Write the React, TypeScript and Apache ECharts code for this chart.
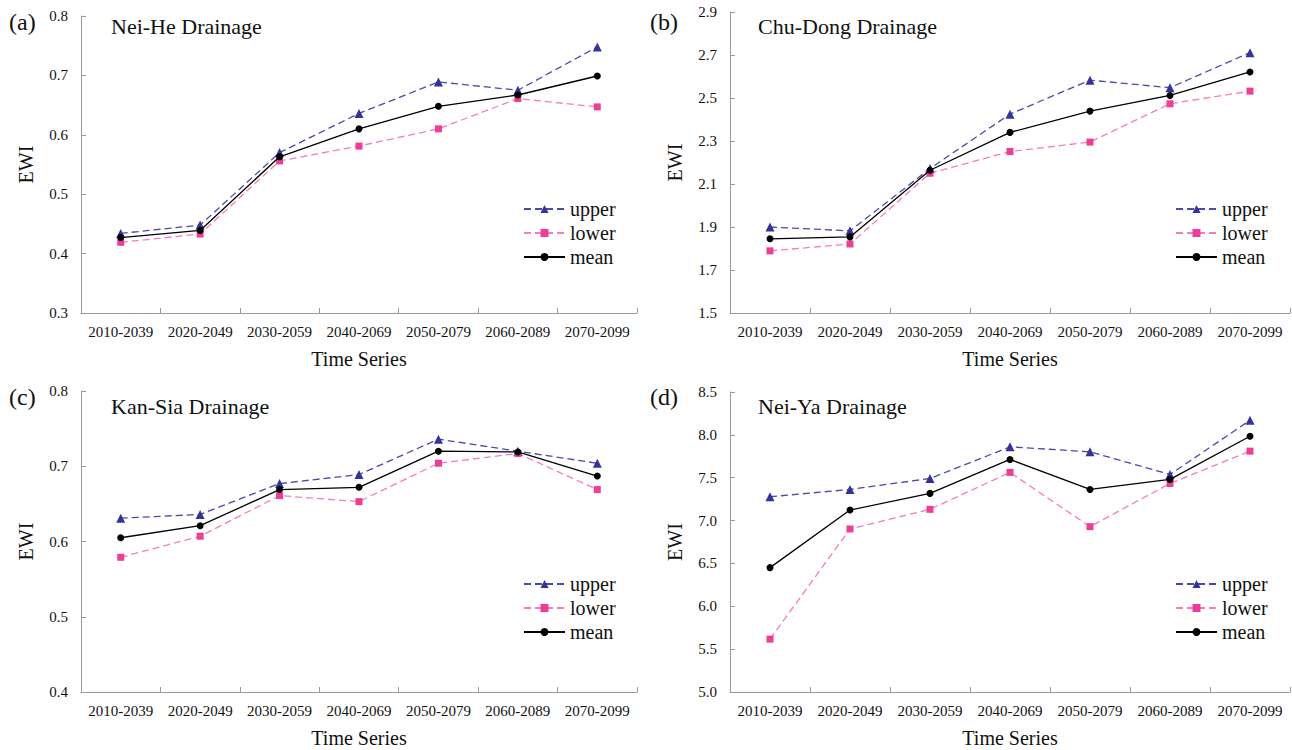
import React, { useEffect, useRef } from "react";
import * as echarts from "echarts";

const categories = ["2010-2039", "2020-2049", "2030-2059", "2040-2069", "2050-2079", "2060-2089", "2070-2099"];
const seriesNames = ["upper", "lower", "mean"];

const neiHeUpper = [0.434, 0.448, 0.570, 0.636, 0.689, 0.675, 0.748];
const neiHeLower = [0.419, 0.433, 0.556, 0.581, 0.610, 0.661, 0.647];
const neiHeMean = [0.427, 0.439, 0.563, 0.610, 0.648, 0.667, 0.699];

const chuDongUpper = [1.900, 1.882, 2.172, 2.425, 2.583, 2.548, 2.711];
const chuDongLower = [1.789, 1.821, 2.150, 2.251, 2.295, 2.473, 2.532];
const chuDongMean = [1.845, 1.854, 2.164, 2.340, 2.439, 2.512, 2.621];

const kanSiaUpper = [0.631, 0.636, 0.677, 0.689, 0.736, 0.720, 0.704];
const kanSiaLower = [0.579, 0.607, 0.661, 0.653, 0.704, 0.717, 0.669];
const kanSiaMean = [0.605, 0.621, 0.669, 0.672, 0.720, 0.719, 0.687];

const neiYaUpper = [7.278, 7.363, 7.491, 7.860, 7.802, 7.538, 8.170];
const neiYaLower = [5.617, 6.902, 7.131, 7.562, 6.929, 7.433, 7.810];
const neiYaMean = [6.451, 7.123, 7.317, 7.713, 7.363, 7.480, 7.984];

const ticksA = [0.3, 0.4, 0.5, 0.6, 0.7, 0.8];
const ticksB = [1.5, 1.7, 1.9, 2.1, 2.3, 2.5, 2.7, 2.9];
const ticksC = [0.4, 0.5, 0.6, 0.7, 0.8];
const ticksD = [5.0, 5.5, 6.0, 6.5, 7.0, 7.5, 8.0, 8.5];

const panelLabels = ["(a)", "(b)", "(c)", "(d)"];
const panelTitles = ["Nei-He Drainage", "Chu-Dong Drainage", "Kan-Sia Drainage", "Nei-Ya Drainage"];

const FONT = "Liberation Serif";

const panels = [
  { ticks: ticksA, data: [neiHeUpper, neiHeLower, neiHeMean], grid: { left: 81, top: 16, width: 556, height: 297 }, labelPos: [9, 10], titlePos: [111, 15], legendPos: [523, 199] },
  { ticks: ticksB, data: [chuDongUpper, chuDongLower, chuDongMean], grid: { left: 730, top: 12, width: 560, height: 301 }, labelPos: [650, 10], titlePos: [758, 15], legendPos: [1175, 199] },
  { ticks: ticksC, data: [kanSiaUpper, kanSiaLower, kanSiaMean], grid: { left: 81, top: 391, width: 556, height: 301 }, labelPos: [9, 385], titlePos: [111, 395], legendPos: [523, 574] },
  { ticks: ticksD, data: [neiYaUpper, neiYaLower, neiYaMean], grid: { left: 730, top: 392, width: 560, height: 300 }, labelPos: [650, 385], titlePos: [758, 395], legendPos: [1175, 574] },
];

const styles = [
  { color: "#333399", lineColor: "#4a4aa8", symbol: "triangle", size: 9, type: [7, 4] },
  { color: "#ee3d96", lineColor: "#f67cc0", symbol: "rect", size: 7, type: [7, 4] },
  { color: "#000000", lineColor: "#000000", symbol: "circle", size: 7, type: "solid" },
];

export default function App() {
  const ref = useRef<HTMLDivElement>(null);
  useEffect(() => {
    if (!ref.current) return;
    const chart = echarts.init(ref.current, undefined, { renderer: "svg" });
    const axisColor = "#9a9a9a";
    const titles: any[] = [];
    const grids: any[] = [];
    const xAxes: any[] = [];
    const yAxes: any[] = [];
    const series: any[] = [];
    const legends: any[] = [];
    panels.forEach((p, i) => {
      titles.push({ text: panelLabels[i], left: p.labelPos[0], top: p.labelPos[1], padding: 0, textStyle: { fontFamily: FONT, fontSize: 24, fontWeight: "normal", color: "#111" } });
      titles.push({ text: panelTitles[i], left: p.titlePos[0], top: p.titlePos[1], padding: 0, textStyle: { fontFamily: FONT, fontSize: 22, fontWeight: "normal", color: "#111" } });
      grids.push({ ...p.grid, containLabel: false });
      xAxes.push({
        type: "category", gridIndex: i, data: categories, boundaryGap: true,
        name: "Time Series", nameLocation: "middle", nameGap: 36,
        nameTextStyle: { fontFamily: FONT, fontSize: 20, color: "#111" },
        axisLine: { lineStyle: { color: axisColor, width: 1 } },
        axisTick: { show: true, inside: true, length: 5, lineStyle: { color: axisColor } },
        axisLabel: { fontFamily: FONT, fontSize: 15, color: "#111", margin: 11, interval: 0 },
        splitLine: { show: false },
      });
      const mn = p.ticks[0];
      const mx = p.ticks[p.ticks.length - 1];
      yAxes.push({
        type: "value", gridIndex: i, min: mn, max: mx,
        name: "EWI", nameLocation: "middle", nameGap: 45, nameRotate: 90,
        nameTextStyle: { fontFamily: FONT, fontSize: 20, color: "#111" },
        axisLine: { show: true, lineStyle: { color: axisColor, width: 1 } },
        axisTick: { show: true, inside: true, length: 5, lineStyle: { color: axisColor }, customValues: p.ticks },
        axisLabel: { fontFamily: FONT, fontSize: 15, color: "#111", margin: 13, customValues: p.ticks, formatter: (v: number) => v.toFixed(1) },
        splitLine: { show: false },
      });
      p.data.forEach((d, k) => {
        const s = styles[k];
        series.push({
          type: "line", name: seriesNames[k], xAxisIndex: i, yAxisIndex: i, data: d,
          symbol: s.symbol, symbolSize: s.size, showSymbol: true,
          itemStyle: { color: s.color },
          lineStyle: { color: s.lineColor, width: 1.3, type: s.type },
          z: k === 2 ? 3 : 2,
        });
      });
      legends.push({
        left: p.legendPos[0], top: p.legendPos[1], orient: "vertical", padding: 0,
        itemWidth: 41, itemHeight: 10, itemGap: 4,
        data: seriesNames,
        textStyle: { fontFamily: FONT, fontSize: 20, color: "#111", lineHeight: 20 },
        selectedMode: false,
      });
    });
    chart.setOption({
      animation: false,
      backgroundColor: "#ffffff",
      textStyle: { fontFamily: FONT },
      title: titles,
      grid: grids,
      xAxis: xAxes,
      yAxis: yAxes,
      legend: legends,
      series,
    });
    return () => chart.dispose();
  }, []);
  return <div ref={ref} style={{ position: "fixed", left: 0, top: 0, width: 1292, height: 750, fontFamily: FONT }} />;
}
